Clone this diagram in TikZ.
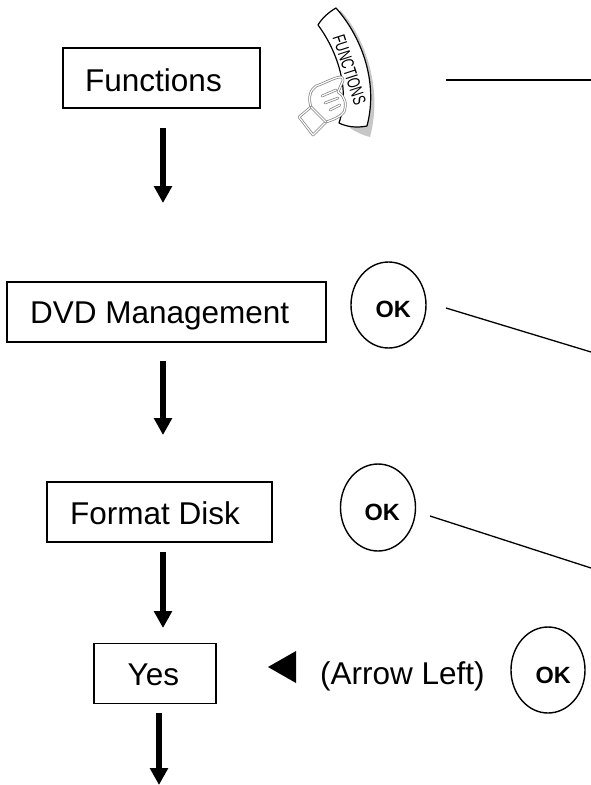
\documentclass[tikz,border=0pt]{standalone}
\usepackage{fontspec}
\setmainfont{Liberation Sans}
\usetikzlibrary{arrows.meta,shapes.geometric}
\tikzset{
 lab/.style={draw,line width=1.4pt,inner sep=0pt,minimum height=60pt},
 txt/.style={inner sep=0pt,anchor=base west,font=\fontsize{31.5}{36}\selectfont},
 okc/.style={draw,ellipse,line width=1.4pt,inner sep=0pt},
 oktxt/.style={inner sep=0pt,anchor=base west,font=\fontsize{23.5}{28}\selectfont\bfseries},
 flow/.style={line width=5.5pt,-{Triangle[length=17pt,width=17.5pt]}},
 lead/.style={line width=1.3pt},
 handline/.style={draw=black!50,line width=.7pt,double=white,double distance=1.2pt,line join=round,line cap=round},
}
\begin{document}
\begin{tikzpicture}[x=1pt,y=-1pt]
\useasboundingbox (0,0) rectangle (591,785);
\node[lab,minimum width=197pt] (fn) at (161.5,78) {};
\node[lab,minimum width=319pt] (dvd) at (166.5,312) {};
\node[lab,minimum width=225pt] (fmt) at (159.5,512) {};
\node[lab,minimum width=122pt] (yes) at (155,673.5) {};
\node[txt] (fnt) at (85,91) {Functions};
\node[txt] (dvdt) at (30,323) {DVD Management};
\node[txt] (fmtt) at (70,524) {Format Disk};
\node[txt] (yest) at (127.5,685) {Yes};
\coordinate (s1) at (163,128); \coordinate (e1) at (163,203);
\coordinate (s2) at (163,361); \coordinate (e2) at (163,435);
\coordinate (s3) at (163,552); \coordinate (e3) at (163,628);
\coordinate (s4) at (159,713); \coordinate (e4) at (159,785);
\draw[flow] (s1) -- (e1);
\draw[flow] (s2) -- (e2);
\draw[flow] (s3) -- (e3);
\draw[flow] (s4) -- (e4);
\node[okc,minimum width=75pt,minimum height=86pt] (ok1) at (388.5,305) {};
\node[okc,minimum width=75pt,minimum height=87pt] (ok2) at (378,507.5) {};
\node[okc,minimum width=74pt,minimum height=86pt] (ok3) at (548,670) {};
\node[oktxt] (ok1t) at (375.5,317) {OK};
\node[oktxt] (ok2t) at (364.5,520) {OK};
\node[oktxt] (ok3t) at (535.5,683) {OK};
\coordinate (a) at (446,80); \coordinate (a2) at (591,80);
\coordinate (b) at (446,308); \coordinate (b2) at (591,352);
\coordinate (c) at (430,516); \coordinate (c2) at (591,568);
\draw[lead] (a) -- (a2);
\draw[lead] (b) -- (b2);
\draw[lead] (c) -- (c2);
\coordinate (t1) at (268,667); \coordinate (t2) at (296,651); \coordinate (t3) at (296,683);
\fill (t1) -- (t2) -- (t3) -- cycle;
\node[txt] (al) at (320,684) {(Arrow Left)};
% button
\fill[black!22] (340,10) .. controls (362,33) and (384,85) .. (370,137) .. controls (362,135) and (356,132) .. (350,128) -- cycle;
\draw[line width=1.2pt,fill=white,line join=round] (318,25) .. controls (322,18) and (329,12) .. (336,8) .. controls (360,35) and (379,80) .. (367,126) .. controls (357,128) and (347,127) .. (339,123) .. controls (352,85) and (333,45) .. (318,25) -- cycle;
\node[inner sep=0pt,rotate=-72,xscale=.69,font=\fontsize{18}{20}\selectfont] (ft) at (349.5,70) {FUNCTIONS};
% hand
\path[handline,fill=white] (299,117) -- (311,107) .. controls (308,98) and (310,90) .. (316,86) .. controls (325,83) and (333,78) .. (340,77) .. controls (343,77) and (344,80) .. (342,83) -- (338,92) .. controls (345,96) and (347,104) .. (344,112) .. controls (339,118) and (332,120) .. (326,122) -- (313,135) -- cycle;
\path[handline] (311,107) -- (326,122);
\path[handline] (322,96) -- (336,90) (325,103) -- (338,98) (330,110) -- (340,105);
\end{tikzpicture}
\end{document}
